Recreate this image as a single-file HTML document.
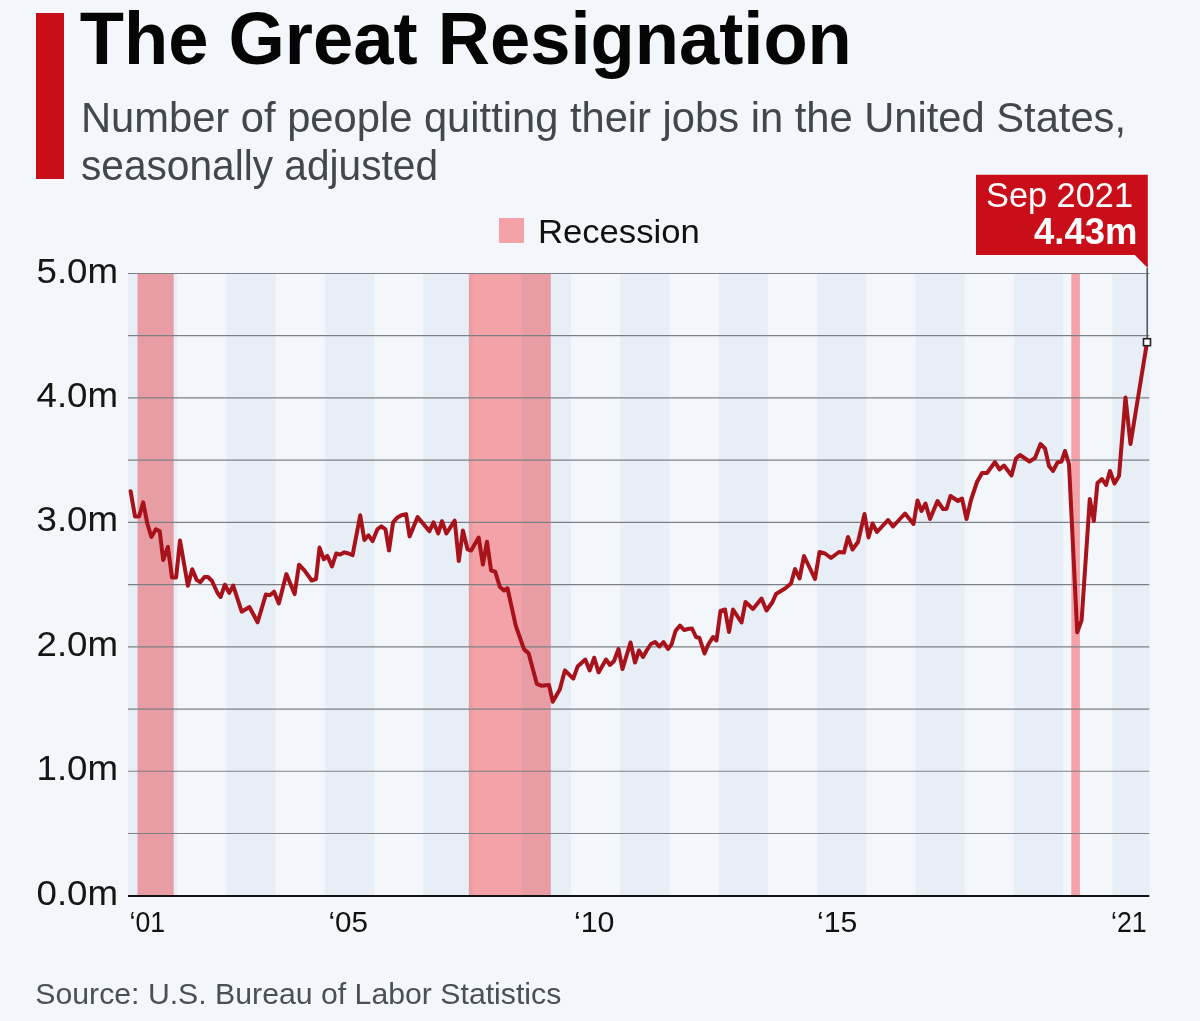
<!DOCTYPE html>
<html><head><meta charset="utf-8">
<style>
html,body{margin:0;padding:0;background:#f3f6fa;}
body{width:1200px;height:1021px;overflow:hidden;position:relative;}
svg{position:absolute;left:0;top:0;display:block;}
text{font-family:"Liberation Sans", sans-serif;}
</style></head>
<body>
<svg width="1200" height="1021" viewBox="0 0 1200 1021">
<rect x="0" y="0" width="1200" height="1021" fill="#f3f6fa"/>
<rect x="36" y="13" width="28" height="166" fill="#c90e19"/>
<rect x="128.00" y="273" width="49.22" height="622.00" fill="#e8eef6"/><rect x="226.44" y="273" width="49.22" height="622.00" fill="#e8eef6"/><rect x="324.88" y="273" width="49.22" height="622.00" fill="#e8eef6"/><rect x="423.32" y="273" width="49.22" height="622.00" fill="#e8eef6"/><rect x="521.75" y="273" width="49.22" height="622.00" fill="#e8eef6"/><rect x="620.19" y="273" width="49.22" height="622.00" fill="#e8eef6"/><rect x="718.63" y="273" width="49.22" height="622.00" fill="#e8eef6"/><rect x="817.07" y="273" width="49.22" height="622.00" fill="#e8eef6"/><rect x="915.51" y="273" width="49.22" height="622.00" fill="#e8eef6"/><rect x="1013.95" y="273" width="49.22" height="622.00" fill="#e8eef6"/><rect x="1112.38" y="273" width="36.92" height="622.00" fill="#e8eef6"/>
<rect x="137.5" y="273" width="36.19999999999999" height="622.00" fill="#ffa8ab" style="mix-blend-mode:multiply"/><rect x="468.8" y="273" width="81.99999999999994" height="622.00" fill="#ffa8ab" style="mix-blend-mode:multiply"/><rect x="1071.3" y="273" width="8.600000000000136" height="622.00" fill="#ffa8ab" style="mix-blend-mode:multiply"/>
<line x1="128" x2="1149.3" y1="273.50" y2="273.50" stroke="#7c8086" stroke-width="1.2"/><line x1="128" x2="1149.3" y1="335.72" y2="335.72" stroke="#7c8086" stroke-width="1.2"/><line x1="128" x2="1149.3" y1="397.94" y2="397.94" stroke="#7c8086" stroke-width="1.2"/><line x1="128" x2="1149.3" y1="460.16" y2="460.16" stroke="#7c8086" stroke-width="1.2"/><line x1="128" x2="1149.3" y1="522.38" y2="522.38" stroke="#7c8086" stroke-width="1.2"/><line x1="128" x2="1149.3" y1="584.60" y2="584.60" stroke="#7c8086" stroke-width="1.2"/><line x1="128" x2="1149.3" y1="646.82" y2="646.82" stroke="#7c8086" stroke-width="1.2"/><line x1="128" x2="1149.3" y1="709.04" y2="709.04" stroke="#7c8086" stroke-width="1.2"/><line x1="128" x2="1149.3" y1="771.26" y2="771.26" stroke="#7c8086" stroke-width="1.2"/><line x1="128" x2="1149.3" y1="833.48" y2="833.48" stroke="#7c8086" stroke-width="1.2"/>
<line x1="128" x2="1149.3" y1="896" y2="896" stroke="#111" stroke-width="2.2"/>
<path d="M130.6,491.2 L135.0,516.4 L139.1,516.4 L143.2,502.3 L147.3,523.5 L151.4,537.0 L155.8,529.4 L159.7,531.1 L163.2,559.9 L167.9,547.0 L172.0,577.5 L176.1,577.5 L180.0,540.5 L187.9,585.8 L192.2,569.3 L196.7,579.9 L200.2,582.2 L204.5,577.0 L208.0,577.0 L212.0,581.0 L217.5,593.0 L220.6,597.0 L224.9,584.7 L229.2,592.9 L233.2,585.6 L241.7,611.7 L249.4,607.0 L257.6,622.3 L265.8,594.6 L269.9,595.2 L274.1,591.7 L278.8,603.5 L286.4,574.1 L294.6,594.1 L299.0,564.7 L304.6,570.6 L311.7,580.5 L316.0,579.0 L319.5,547.6 L323.8,559.3 L327.3,555.8 L332.0,566.4 L336.2,553.5 L340.3,554.6 L344.4,552.3 L348.5,553.5 L352.6,555.2 L360.2,515.3 L364.4,540.0 L368.5,535.3 L372.6,541.1 L377.3,529.4 L381.4,526.4 L385.5,529.4 L389.0,550.5 L393.1,522.3 L397.3,517.6 L401.4,515.3 L406.1,514.1 L409.6,536.4 L417.6,517.0 L429.4,531.1 L433.5,522.3 L438.2,533.5 L442.0,521.2 L446.4,533.5 L454.7,520.6 L458.8,561.1 L462.9,530.6 L467.6,549.4 L471.1,550.5 L478.7,537.6 L482.9,564.6 L487.0,541.7 L491.1,570.5 L495.2,571.7 L499.9,587.0 L504.0,590.5 L507.5,588.3 L515.8,625.9 L524.1,649.4 L528.6,653.2 L536.8,683.8 L541.3,685.7 L549.0,685.1 L552.8,701.7 L559.8,689.6 L564.9,670.4 L573.2,678.7 L577.6,666.6 L585.3,659.6 L589.7,670.4 L594.2,657.7 L598.6,672.4 L606.0,659.5 L610.0,665.0 L614.0,661.0 L618.5,649.0 L622.5,669.0 L630.5,642.5 L635.0,662.5 L639.0,650.5 L643.0,657.0 L647.0,650.0 L651.0,644.0 L655.0,642.0 L659.5,646.5 L663.5,642.0 L668.0,649.0 L671.5,644.5 L675.5,631.0 L680.0,625.5 L684.0,630.0 L688.0,629.0 L692.0,628.5 L696.0,637.0 L699.5,638.0 L704.5,653.5 L708.5,644.0 L713.0,637.0 L716.5,640.5 L720.5,611.0 L725.0,609.5 L729.0,632.0 L733.0,609.5 L741.5,622.5 L745.5,602.0 L753.0,609.0 L761.5,598.5 L766.5,610.5 L772.5,602.0 L776.0,594.0 L785.0,588.5 L791.0,583.5 L795.0,569.0 L799.5,578.5 L804.0,556.0 L815.0,579.0 L819.5,552.0 L825.0,553.5 L831.0,558.0 L839.0,552.0 L844.0,552.5 L848.0,537.0 L852.5,549.5 L858.0,542.0 L864.5,514.0 L868.5,537.5 L872.5,523.5 L877.0,532.0 L888.0,520.0 L893.0,526.5 L905.0,513.5 L913.5,524.0 L917.5,500.5 L921.5,511.0 L925.5,503.5 L930.0,519.0 L937.5,501.0 L943.0,509.0 L946.5,509.0 L950.5,496.0 L958.0,501.0 L962.0,498.5 L966.5,519.0 L971.0,500.0 L977.0,482.0 L982.0,473.0 L987.0,473.0 L995.0,462.0 L999.5,469.5 L1004.0,465.5 L1011.5,475.5 L1016.0,458.5 L1020.0,455.0 L1029.5,461.5 L1035.0,458.0 L1040.5,444.0 L1045.0,448.5 L1049.0,466.0 L1053.0,471.0 L1057.5,462.5 L1061.5,461.5 L1065.0,451.0 L1069.0,464.0 L1077.2,632.2 L1081.6,620.4 L1089.8,499.0 L1093.8,521.0 L1097.5,483.0 L1102.0,479.0 L1106.0,485.0 L1110.0,471.0 L1114.5,483.5 L1119.0,476.0 L1125.5,397.5 L1130.5,444.0 L1147.0,342.2" fill="none" stroke="#a8121b" stroke-width="4.0" stroke-linejoin="round" stroke-linecap="round"/>
<line x1="1147.2" x2="1147.2" y1="268.0" y2="338.2" stroke="#555a60" stroke-width="1.6"/>
<rect x="1143.5" y="338.7" width="7" height="7" fill="#fff" stroke="#222" stroke-width="1.6"/>
<path d="M976,174.8 h171.8 v93.2 l-13,-13 H976 Z" fill="#c90e19"/>
<rect x="499" y="218" width="25" height="25" fill="#f3a1a7"/>
<text x="79.8" y="64" font-size="73.6" font-weight="bold" fill="#050505" text-anchor="start" textLength="772" lengthAdjust="spacingAndGlyphs">The Great Resignation</text><text x="81" y="131.8" font-size="41.9" font-weight="normal" fill="#41474d" text-anchor="start" textLength="1045" lengthAdjust="spacingAndGlyphs">Number of people quitting their jobs in the United States,</text><text x="81" y="179.5" font-size="41.9" font-weight="normal" fill="#41474d" text-anchor="start" textLength="357" lengthAdjust="spacingAndGlyphs">seasonally adjusted</text><text x="538" y="243" font-size="33" font-weight="normal" fill="#111" text-anchor="start" textLength="161.7" lengthAdjust="spacingAndGlyphs">Recession</text><text x="986" y="207" font-size="34.6" font-weight="normal" fill="#fff" text-anchor="start" textLength="147" lengthAdjust="spacingAndGlyphs">Sep 2021</text><text x="1034" y="243.6" font-size="36.3" font-weight="bold" fill="#fff" text-anchor="start" textLength="103.4" lengthAdjust="spacingAndGlyphs">4.43m</text><text x="36.5" y="282.6" font-size="35" font-weight="normal" fill="#161616" text-anchor="start" textLength="81.5" lengthAdjust="spacingAndGlyphs">5.0m</text><text x="36.5" y="407.04" font-size="35" font-weight="normal" fill="#161616" text-anchor="start" textLength="81.5" lengthAdjust="spacingAndGlyphs">4.0m</text><text x="36.5" y="531.48" font-size="35" font-weight="normal" fill="#161616" text-anchor="start" textLength="81.5" lengthAdjust="spacingAndGlyphs">3.0m</text><text x="36.5" y="655.92" font-size="35" font-weight="normal" fill="#161616" text-anchor="start" textLength="81.5" lengthAdjust="spacingAndGlyphs">2.0m</text><text x="36.5" y="780.36" font-size="35" font-weight="normal" fill="#161616" text-anchor="start" textLength="81.5" lengthAdjust="spacingAndGlyphs">1.0m</text><text x="36.5" y="904.8" font-size="35" font-weight="normal" fill="#161616" text-anchor="start" textLength="81.5" lengthAdjust="spacingAndGlyphs">0.0m</text><text x="129.5" y="931.7" font-size="29" font-weight="normal" fill="#111" text-anchor="start" textLength="35.5" lengthAdjust="spacingAndGlyphs">‘01</text><text x="328.5" y="931.7" font-size="29" font-weight="normal" fill="#111" text-anchor="start" textLength="39.5" lengthAdjust="spacingAndGlyphs">‘05</text><text x="574" y="931.7" font-size="29" font-weight="normal" fill="#111" text-anchor="start" textLength="40.5" lengthAdjust="spacingAndGlyphs">‘10</text><text x="817" y="931.7" font-size="29" font-weight="normal" fill="#111" text-anchor="start" textLength="40.3" lengthAdjust="spacingAndGlyphs">‘15</text><text x="1111" y="931.7" font-size="29" font-weight="normal" fill="#111" text-anchor="start" textLength="35.7" lengthAdjust="spacingAndGlyphs">‘21</text><text x="35.3" y="1003.6" font-size="30" font-weight="normal" fill="#4a5058" text-anchor="start" textLength="526" lengthAdjust="spacingAndGlyphs">Source: U.S. Bureau of Labor Statistics</text>
</svg>
</body></html>
